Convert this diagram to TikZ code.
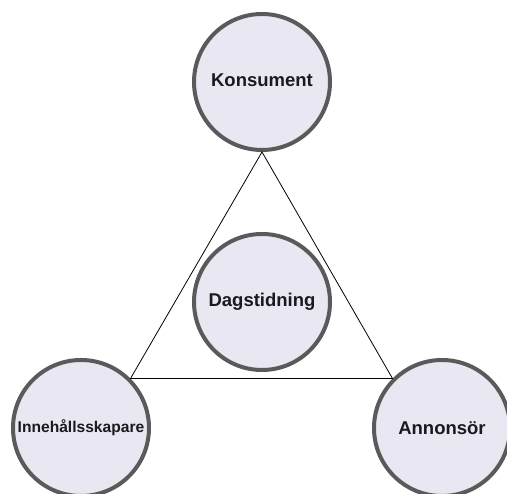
\documentclass[tikz,border=0pt]{standalone}
\usepackage{fontspec}
\setmainfont{Liberation Sans}
\usepackage{tikz}

\definecolor{rolefill}{RGB}{233,231,242}
\definecolor{roleline}{RGB}{90,90,90}
\definecolor{roletext}{RGB}{26,26,30}

\begin{document}
\begin{tikzpicture}[x=1pt, y=1pt,
    role/.style={circle, draw=roleline, line width=4pt, fill=rolefill,
        minimum size=136pt, inner sep=0pt, text=roletext,
        font=\bfseries\fontsize{18.5}{22}\selectfont}]
    \useasboundingbox (0, 0) rectangle (507, 494);

    % the four parties
    \node[role] (kon) at (262, 412) {\raisebox{3pt}{Konsument}};
    \node[role] (dag) at (262, 192) {Dagstidning};
    \node[role, font=\bfseries\fontsize{15.6}{18}\selectfont] (inn) at (81, 66) {Innehållsskapare};
    \node[role] (ann) at (442, 66) {Annonsör};

    % triangle between the outer parties
    \draw[line width=0.8pt] (kon.south) -- (inn.45) -- (ann.135) -- cycle;
\end{tikzpicture}
\end{document}
